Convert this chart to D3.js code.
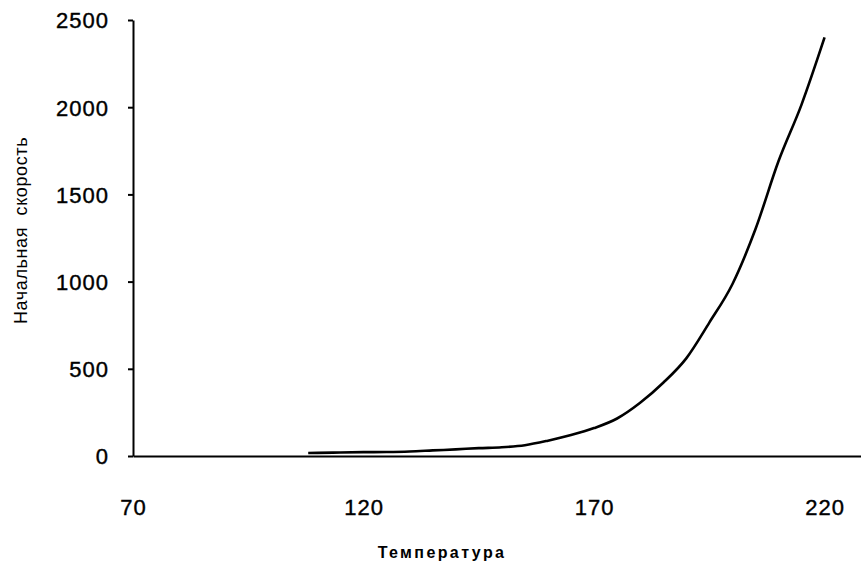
<!DOCTYPE html>
<html>
<head>
<meta charset="utf-8">
<script src="https://cdn.jsdelivr.net/npm/d3@7"></script>
<style>
  html, body { margin: 0; padding: 0; background: #fff; }
  svg { display: block; }
  text { font-family: "Liberation Sans", Arial, Helvetica, sans-serif; fill: #000; }
</style>
</head>
<body>
<svg id="chart" width="861" height="561"></svg>
<script>
// Initial rate as a function of temperature
const temperature = [108, 110, 115, 120, 125, 130, 135, 140, 145, 150, 155, 160, 165, 170, 175, 180, 185, 190, 195, 200, 205, 210, 215, 220];
const initialRate = [17, 18, 20, 22, 23, 26, 32, 38, 45, 50, 62, 88, 120, 160, 215, 305, 420, 560, 765, 985, 1300, 1690, 2015, 2400];

const xTicks = [70, 120, 170, 220];
const yTicks = [0, 500, 1000, 1500, 2000, 2500];

const xTitle = "Температура";
const yTitle = "Начальная скорость";

const svg = d3.select("#chart");

const x = d3.scaleLinear().domain([70, 227.9]).range([133, 861]);
const y = d3.scaleLinear().domain([0, 2500]).range([456, 20]);

// Y axis: line with short outward ticks, labels right-aligned
const yAxis = d3.axisLeft(y).tickValues(yTicks).tickFormat(d3.format("d"))
  .tickSize(5).tickSizeOuter(0).tickPadding(19);
const gy = svg.append("g").attr("transform", `translate(${x(70)},0)`).call(yAxis);
gy.select(".domain").attr("stroke", "#000").attr("stroke-width", 2);
gy.selectAll(".tick line").attr("stroke", "#000").attr("stroke-width", 2);
gy.selectAll(".tick text")
  .style("font-size", "22px")
  .style("letter-spacing", "1px")
  .attr("stroke", "#000").attr("stroke-width", 0.4)
  .attr("dy", "0.36em");

// X axis: baseline only, labels below without tick marks
const xAxis = d3.axisBottom(x).tickValues(xTicks).tickFormat(d3.format("d"))
  .tickSize(0).tickSizeOuter(0).tickPadding(59);
const gx = svg.append("g").attr("transform", `translate(0,${y(0)})`).call(xAxis);
gx.select(".domain").attr("stroke", "#000").attr("stroke-width", 2);
gx.selectAll(".tick text")
  .style("font-size", "22px")
  .style("letter-spacing", "1px")
  .attr("stroke", "#000").attr("stroke-width", 0.4)
  .attr("dy", "0");

// Data curve
const line = d3.line()
  .x((d, i) => x(temperature[i]))
  .y(d => y(d))
  .curve(d3.curveMonotoneX);

svg.append("path")
  .datum(initialRate)
  .attr("fill", "none")
  .attr("stroke", "#000")
  .attr("stroke-width", 2.6)
  .attr("d", line);

// Axis titles
svg.append("text")
  .attr("x", 442)
  .attr("y", 558)
  .attr("text-anchor", "middle")
  .style("font-size", "16px")
  .style("font-weight", "bold")
  .style("letter-spacing", "2.4px")
  .text(xTitle);

svg.append("text")
  .attr("transform", "translate(27,324) rotate(-90)")
  .attr("text-anchor", "start")
  .style("font-size", "18px")
  .style("letter-spacing", "0.6px")
  .style("word-spacing", "6px")
  .text(yTitle);
</script>
</body>
</html>
